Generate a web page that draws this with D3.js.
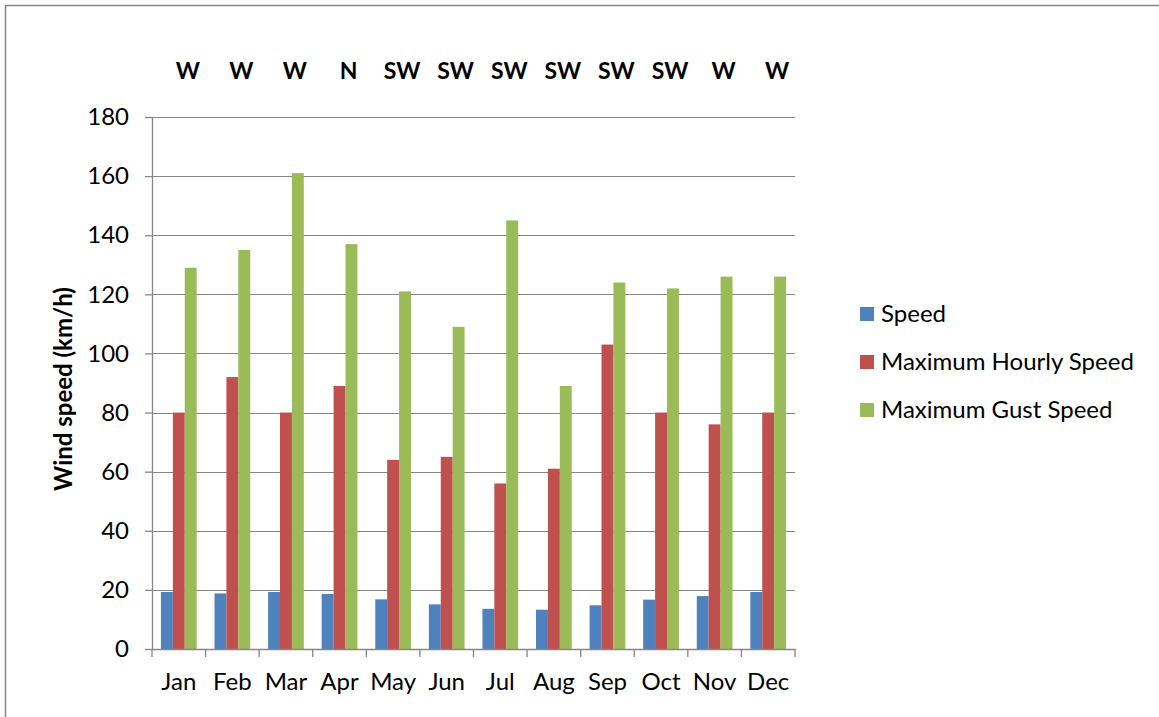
<!DOCTYPE html>
<html>
<head>
<meta charset="utf-8">
<script src="https://cdn.jsdelivr.net/npm/d3@7"></script>
<style>
  body { margin: 0; background: #fff; }
  text { font-family: Lato, "Open Sans", sans-serif; }
</style>
</head>
<body>
<div id="chart"></div>
<script>
// Dữ liệu
const months = ["Jan","Feb","Mar","Apr","May","Jun","Jul","Aug","Sep","Oct","Nov","Dec"];
const directions = ["W","W","W","N","SW","SW","SW","SW","SW","SW","W","W"];
const speed = [19.3, 18.8, 19.3, 18.6, 16.8, 15.1, 13.6, 13.3, 14.8, 16.7, 17.9, 19.3];
const maxHourly = [80, 92, 80, 89, 64, 65, 56, 61, 103, 80, 76, 80];
const maxGust = [129, 135, 161, 137, 121, 109, 145, 89, 124, 122, 126, 126];
const seriesNames = ["Speed", "Maximum Hourly Speed", "Maximum Gust Speed"];
const yTicks = [0, 20, 40, 60, 80, 100, 120, 140, 160, 180];

const W = 1159, H = 717;
const margin = { top: 117, left: 152, right: 364, bottom: 68 };
const width = W - margin.left - margin.right,
      height = H - margin.top - margin.bottom;
const fs = "24px";

const svg = d3.select("#chart").append("svg")
  .attr("width", W).attr("height", H);

// khung ngoài
svg.append("rect")
  .attr("x", 5.5).attr("y", 5.5)
  .attr("width", W + 20).attr("height", H + 20)
  .attr("fill", "none").attr("stroke", "#868686").attr("stroke-width", 1.5);

const g = svg.append("g").attr("transform", `translate(${margin.left},${margin.top})`);

const x = d3.scaleBand().domain(months).range([0, width]);
const xInner = d3.scaleBand().domain(seriesNames)
  .range([x.bandwidth() * 0.75 / 4.5, x.bandwidth() * 3.75 / 4.5]);
const y = d3.scaleLinear().domain([0, 180]).range([height, 0]);
const color = d3.scaleOrdinal().domain(seriesNames).range(["#4F81BD", "#C0504D", "#9BBB59"]);

// lưới ngang
g.append("g").selectAll("line")
  .data(yTicks.slice(1))
  .join("line")
    .attr("x1", 0).attr("x2", width)
    .attr("y1", d => Math.round(y(d)) + 0.5).attr("y2", d => Math.round(y(d)) + 0.5)
    .attr("stroke", "#868686").attr("stroke-width", 1);

// cột
const data = months.map((m, i) => ({ month: m, values: [speed[i], maxHourly[i], maxGust[i]] }));
g.append("g").selectAll("g")
  .data(data)
  .join("g")
    .attr("transform", d => `translate(${x(d.month)},0)`)
  .selectAll("rect")
  .data(d => d.values.map((v, k) => ({ key: seriesNames[k], v })))
  .join("rect")
    .attr("x", d => xInner(d.key))
    .attr("width", xInner.bandwidth())
    .attr("y", d => y(d.v))
    .attr("height", d => height - y(d.v))
    .attr("fill", d => color(d.key));

// trục Y
const yAxis = g.append("g")
  .call(d3.axisLeft(y).tickValues(yTicks).tickSize(7).tickSizeOuter(0).tickPadding(16));
yAxis.selectAll("text").style("font-size", fs).attr("fill", "#000")
  .style("font-family", "Lato, sans-serif");
yAxis.selectAll("line, path").attr("stroke", "#868686").attr("stroke-width", 1.3);

// trục X
const xAxis = g.append("g").attr("transform", `translate(0,${height})`)
  .call(d3.axisBottom(x).tickSize(0).tickPadding(24));
xAxis.select(".domain").attr("stroke", "#868686").attr("stroke-width", 1.3);
xAxis.selectAll("text").style("font-size", fs).attr("fill", "#000")
  .style("font-family", "Lato, sans-serif");
g.append("g").selectAll("line")
  .data(d3.range(months.length + 1))
  .join("line")
    .attr("x1", i => i * x.step()).attr("x2", i => i * x.step())
    .attr("y1", height).attr("y2", height + 8)
    .attr("stroke", "#868686").attr("stroke-width", 1.3);

// hướng gió phía trên
g.append("g").selectAll("text")
  .data(months.map((m, i) => ({ m, dir: directions[i] })))
  .join("text")
    .attr("x", d => x(d.m) + x.bandwidth() / 2 + 9)
    .attr("y", -38)
    .attr("text-anchor", "middle")
    .style("font-size", "23px").style("font-weight", "bold")
    .text(d => d.dir);

// tiêu đề trục Y
svg.append("text")
  .attr("transform", `translate(72,${margin.top + height / 2 + 6}) rotate(-90)`)
  .attr("text-anchor", "middle")
  .style("font-size", fs).style("font-weight", "bold")
  .text("Wind speed (km/h)");

// chú giải
const legend = svg.append("g").attr("transform", "translate(860,314)");
const items = legend.selectAll("g")
  .data(seriesNames)
  .join("g")
    .attr("transform", (d, i) => `translate(0,${i * 48})`);
items.append("rect")
  .attr("x", 0).attr("y", -7).attr("width", 14).attr("height", 14)
  .attr("fill", d => color(d));
items.append("text")
  .attr("x", 21).attr("dy", "0.35em")
  .style("font-size", fs)
  .text(d => d);
</script>
</body>
</html>
